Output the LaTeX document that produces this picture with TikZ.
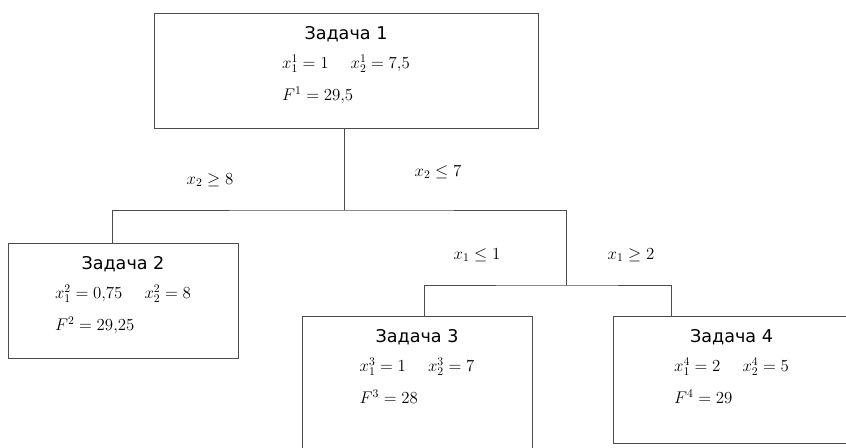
\documentclass[tikz,border=0pt]{standalone}
\usepackage{fontspec}
\newfontfamily\headfont{DejaVu Sans}
\usetikzlibrary{positioning, calc}

\begin{document}
\begin{tikzpicture}[
      x=0.03cm, y=-0.03cm,
      task/.style={
        rectangle, draw=black!70, line width=0.8pt
      },
      head/.style={
        font=\headfont\fontsize{15}{18}\selectfont, inner sep=0pt
      },
      vals/.style={
        font=\fontsize{14.5}{27.5}\selectfont, align=left, inner sep=0pt
      },
      cond/.style={
        font=\fontsize{14}{17}\selectfont, inner sep=1pt
      },
      link/.style={
        line width=0.8pt, draw=black!70
      }
    ]

    \useasboundingbox (0,0) rectangle (846,447);
    \clip (0,0) rectangle (846,447);

    % --- Task boxes ---
    \node[task, minimum width=11.52cm, minimum height=3.45cm] (t1) at (346,70.5)  {};
    \node[task, minimum width=6.9cm,   minimum height=3.45cm] (t2) at (123,300.5) {};
    \node[task, minimum width=6.9cm,   minimum height=4.32cm] (t3) at (417,388)   {};
    \node[task, minimum width=7.11cm,  minimum height=3.81cm] (t4) at (731.5,379.5) {};

    % --- Box contents ---
    \node[head, below=0.42cm of t1.north] (h1) {Задача 1};
    \node[vals, below=0.36cm of h1] (v1)
      {$x_1^1=1$\hspace{1.3em}$x_2^1=7{,}5$\\$F^1=29{,}5$};
    \node[head, below=0.42cm of t2.north] (h2) {Задача 2};
    \node[vals, below=0.36cm of h2] (v2)
      {$x_1^2=0{,}75$\hspace{1.3em}$x_2^2=8$\\$F^2=29{,}25$};
    \node[head, below=0.42cm of t3.north] (h3) {Задача 3};
    \node[vals, below=0.36cm of h3] (v3)
      {$x_1^3=1$\hspace{1.3em}$x_2^3=7$\\$F^3=28$};
    \node[head, below=0.42cm of t4.north] (h4) {Задача 4};
    \node[vals, below=0.36cm of h4] (v4)
      {$x_1^4=2$\hspace{1.3em}$x_2^4=5$\\$F^4=29$};

    % --- Branch points ---
    \coordinate (j1) at (344,210);
    \coordinate (j2) at (566,285);
    \coordinate (d2) at ($(t2.north west)+(105,0)$);
    \coordinate (d3) at ($(t3.north west)+(123,0)$);
    \coordinate (d4) at ($(t4.north west)+(59,0)$);

    % --- Connectors ---
    \draw[link] (t1.south -| j1) -- (j1);
    \draw[link] (d2) |- (j1) -| (j2);
    \draw[link] (d3) |- (j2) -| (d4);

    % --- Branch conditions ---
    \node[cond] (c1) at (210,180) {$x_2\geq 8$};
    \node[cond] (c2) at (438,172) {$x_2\leq 7$};
    \node[cond] (c3) at (477,255) {$x_1\leq 1$};
    \node[cond] (c4) at (631,255) {$x_1\geq 2$};

  \end{tikzpicture}
\end{document}
